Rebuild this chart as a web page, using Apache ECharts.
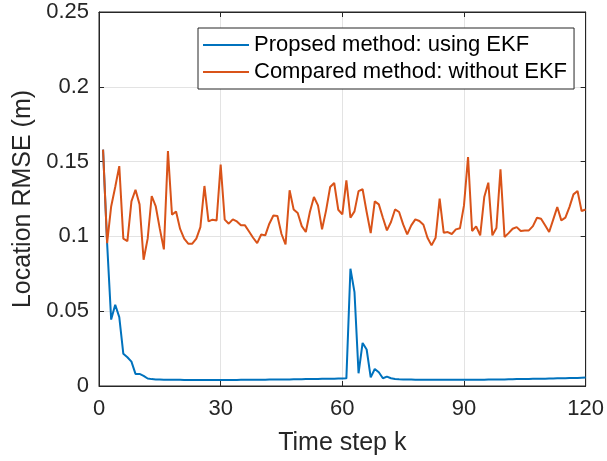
<!DOCTYPE html>
<html>
<head>
<meta charset="utf-8">
<script src="https://cdn.jsdelivr.net/npm/echarts@6/dist/echarts.min.js"></script>
<style>
  html, body { margin: 0; padding: 0; background: #fff; }
  #chart { width: 607px; height: 461px; }
</style>
</head>
<body>
<div id="chart"></div>
<script>
// time steps k = 1..120
const steps = Array.from({ length: 120 }, (_, i) => i + 1)

// proposed method (with EKF)
const rmseEkf = [
  0.158, 0.0955, 0.0444, 0.0543, 0.046, 0.0215, 0.0192, 0.0163, 0.0081, 0.0081, 0.0068, 0.005, 0.0046,
  0.0044, 0.0043, 0.0042, 0.0042, 0.0041, 0.0041, 0.0041, 0.004, 0.004, 0.004, 0.004, 0.004, 0.004, 0.004, 0.004, 0.004, 0.004,
  0.004, 0.004, 0.004, 0.004, 0.0041, 0.0041, 0.0041, 0.0041, 0.0042, 0.0042, 0.0042, 0.0043, 0.0043, 0.0043, 0.0044, 0.0044, 0.0044, 0.0045, 0.0045, 0.0045,
  0.0046, 0.0046, 0.0047, 0.0047, 0.0048, 0.0048, 0.0049, 0.0049, 0.005, 0.005, 0.0051,
  0.0784, 0.0627, 0.0085, 0.0288, 0.0244, 0.0058, 0.0114, 0.0092, 0.0052, 0.0063, 0.0052, 0.0047, 0.0045, 0.0044, 0.0043,
  0.0043, 0.0042, 0.0042, 0.0042, 0.0042, 0.0041, 0.0041, 0.0041, 0.0041, 0.0041, 0.0041, 0.0041, 0.0041, 0.0041,
  0.0041, 0.0041, 0.0042, 0.0042, 0.0042, 0.0043, 0.0043, 0.0043, 0.0044, 0.0044, 0.0045, 0.0045, 0.0046, 0.0046, 0.0047,
  0.0047, 0.0048, 0.0048, 0.0049, 0.0049, 0.005, 0.005, 0.0051, 0.0051, 0.0052, 0.0053, 0.0053, 0.0054, 0.0055, 0.0056
]

// compared method (without EKF)
const rmseNoEkf = [
  0.158, 0.0955, 0.120, 0.133, 0.147, 0.0985, 0.0969, 0.1234, 0.1312, 0.1214,
  0.0844, 0.0985, 0.127, 0.120, 0.105, 0.0913, 0.157, 0.1145, 0.1167, 0.105,
  0.0985, 0.0951, 0.0951, 0.0985, 0.1062, 0.1337, 0.110, 0.1112, 0.1107, 0.148,
  0.1112, 0.1085, 0.1114, 0.110, 0.1074, 0.1074, 0.1033, 0.0991, 0.0955, 0.1013,
  0.1007, 0.1085, 0.114, 0.1136, 0.1016, 0.0946, 0.1308, 0.118, 0.1156, 0.1069,
  0.1029, 0.1163, 0.1263, 0.1207, 0.1047, 0.1174, 0.133, 0.1357, 0.1178, 0.1147,
  0.1375, 0.1125, 0.1167, 0.1303, 0.1315, 0.1163, 0.1022, 0.1234, 0.1214, 0.1125,
  0.104, 0.1096, 0.118, 0.1163, 0.108, 0.1013, 0.1074, 0.1114, 0.1103, 0.1078,
  0.0991, 0.094, 0.0991, 0.1252, 0.1025, 0.1029, 0.1016, 0.1047, 0.1054, 0.1207,
  0.1531, 0.1036, 0.1067, 0.1007, 0.1263, 0.1359, 0.1007, 0.1056, 0.1448, 0.0996,
  0.1022, 0.1051, 0.1062, 0.1036, 0.104, 0.104, 0.1069, 0.1125, 0.1118, 0.1074,
  0.1029, 0.1112, 0.1196, 0.1107, 0.1125, 0.1196, 0.1281, 0.1303, 0.117, 0.118
]

const seriesNames = ['Propsed method: using EKF', 'Compared method: without EKF']
const xTicks = { min: 0, max: 120, interval: 30 }
const yTicks = { min: 0, max: 0.25, interval: 0.05 }

const font = 'Liberation Sans, Arial, Helvetica, sans-serif'
const axisColor = '#262626'
const gridColor = '#e3e3e3'

const myChart = echarts.init(document.getElementById('chart'))

const baseAxis = {
    axisLine: { show: true, onZero: false, lineStyle: { color: axisColor, width: 1 } },
    axisTick: { show: true, inside: true, length: 5, lineStyle: { color: axisColor } },
    splitLine: { show: false }
}

myChart.setOption({
    animation: false,
    grid: { left: 99, right: 20, top: 12, bottom: 75, show: true, borderColor: axisColor, borderWidth: 1, backgroundColor: 'transparent' },
    legend: {
        left: 198, top: 28,
        orient: 'vertical',
        data: seriesNames,
        icon: 'rect',
        itemWidth: 46, itemHeight: 2,
        itemGap: 5,
        itemTextGap: 5,
        padding: [6, 7, 6, 5],
        borderColor: axisColor, borderWidth: 1,
        backgroundColor: '#fff',
        textStyle: { fontFamily: font, fontSize: 22, color: '#000' }
    },
    xAxis: [
        {
            ...baseAxis,
            type: 'value', ...xTicks,
            splitLine: { show: true, lineStyle: { color: gridColor, width: 1 } },
            axisLabel: { fontFamily: font, fontSize: 22, color: '#262626', margin: 12 },
            name: 'Time step k', nameLocation: 'middle', nameGap: 45,
            nameTextStyle: { fontFamily: font, fontSize: 25, color: '#262626' }
        },
        { ...baseAxis, type: 'value', ...xTicks, position: 'top', axisLabel: { show: false } }
    ],
    yAxis: [
        {
            ...baseAxis,
            type: 'value', ...yTicks,
            splitLine: { show: true, lineStyle: { color: gridColor, width: 1 } },
            axisLabel: { fontFamily: font, fontSize: 22, color: '#262626', margin: 10 },
            name: 'Location RMSE (m)', nameLocation: 'middle', nameGap: 62,
            nameTextStyle: { fontFamily: font, fontSize: 25, color: '#262626' }
        },
        { ...baseAxis, type: 'value', ...yTicks, position: 'right', axisLabel: { show: false } }
    ],
    series: [
        {
            name: seriesNames[0], type: 'line', showSymbol: false, symbol: 'none',
            data: steps.map((k, i) => [k, rmseEkf[i]]),
            lineStyle: { color: '#0072BD', width: 2 }, itemStyle: { color: '#0072BD' }
        },
        {
            name: seriesNames[1], type: 'line', showSymbol: false, symbol: 'none',
            data: steps.map((k, i) => [k, rmseNoEkf[i]]),
            lineStyle: { color: '#D95319', width: 2 }, itemStyle: { color: '#D95319' }
        }
    ]
})
</script>
</body>
</html>
